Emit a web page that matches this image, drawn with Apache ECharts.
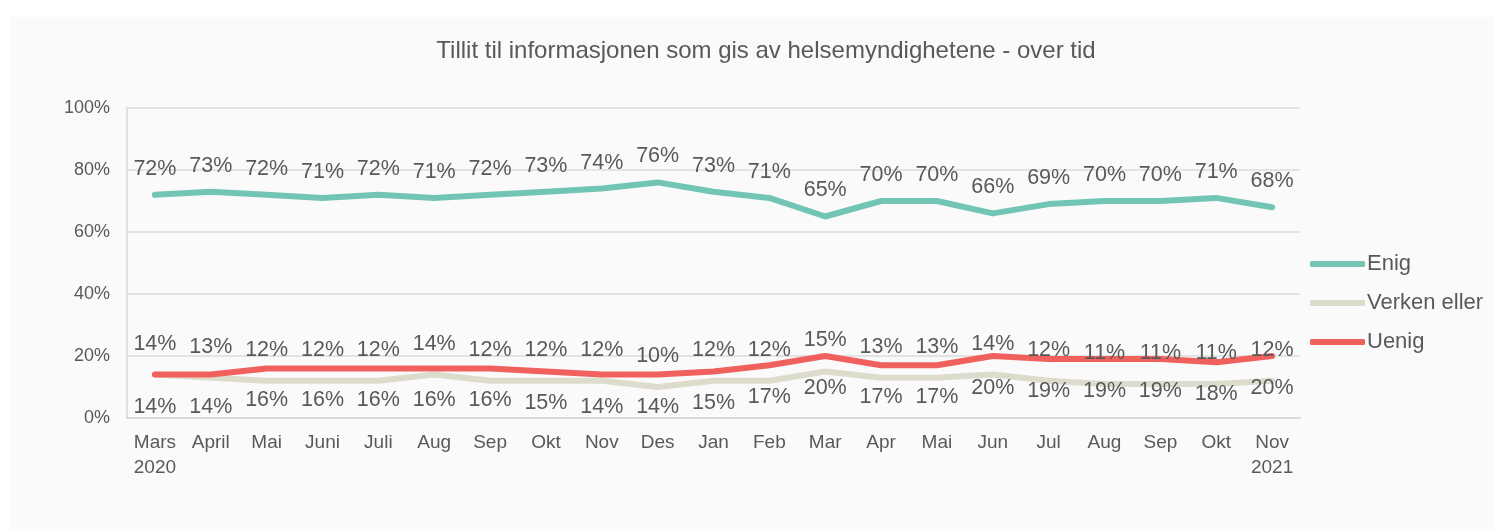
<!DOCTYPE html>
<html><head><meta charset="utf-8">
<script src="https://cdn.jsdelivr.net/npm/echarts@6/dist/echarts.min.js"></script>
<style>
html,body{margin:0;padding:0;background:#fff;}
#panel{position:absolute;left:10px;top:17px;width:1484px;height:514px;background:#fafafa;}
#chart{position:absolute;left:0;top:0;width:1494px;height:531px;}
</style></head>
<body><div id="panel"></div><div id="chart"></div>
<script>
const categories = ['Mars\n2020','April','Mai','Juni','Juli','Aug','Sep','Okt','Nov','Des','Jan','Feb','Mar','Apr','Mai','Jun','Jul','Aug','Sep','Okt','Nov\n2021'];
const enig = [72,73,72,71,72,71,72,73,74,76,73,71,65,70,70,66,69,70,70,71,68];
const verken = [14,13,12,12,12,14,12,12,12,10,12,12,15,13,13,14,12,11,11,11,12];
const uenig = [14,14,16,16,16,16,16,15,14,14,15,17,20,17,17,20,19,19,19,18,20];
const yTicks = [0,20,40,60,80,100];

const txt = '#595959';
const font = 'Liberation Sans, Arial, sans-serif';
const chart = echarts.init(document.getElementById('chart'), null, {renderer:'canvas'});
function lab(pos, dist){
  return {show:true, position:pos, distance:dist, formatter: p => p.value + '%', color:txt, fontSize:21.5, fontFamily:font};
}
function ser(name, data, color, pos, dist){
  return {name:name, type:'line', data:data, symbol:'circle', symbolSize:0, showSymbol:true,
    lineStyle:{width:6, color:color, cap:'round', join:'round'}, itemStyle:{color:color},
    label:lab(pos, dist), labelLayout:{hideOverlap:false}, emphasis:{disabled:true}};
}
chart.setOption({
  backgroundColor:'transparent',
  animation:false,
  title:{text:'Tillit til informasjonen som gis av helsemyndighetene - over tid', left:761, top:34, textAlign:'center',
    textStyle:{color:txt, fontSize:24, fontWeight:'normal', fontFamily:font}},
  legend:{orient:'vertical', left:1305, top:248, itemGap:17, itemWidth:55, itemHeight:6,
    icon:'roundRect', textStyle:{color:txt, fontSize:22, fontFamily:font, padding:[0,0,0,-3]},
    data:['Enig','Verken eller','Uenig']},
  grid:{left:127, right:194, top:108, bottom:113},
  xAxis:{type:'category', data:categories, boundaryGap:true,
    axisLine:{show:true, lineStyle:{color:'#d9d9d9', width:2}}, axisTick:{show:false},
    axisLabel:{color:txt, fontSize:19, fontFamily:font, margin:12, lineHeight:25, interval:0}},
  yAxis:{type:'value', min:0, max:100, interval:20,
    axisLine:{show:true, lineStyle:{color:'#e0e0e0', width:2}}, axisTick:{show:false},
    splitLine:{lineStyle:{color:'#e3e3e3', width:2}},
    axisLabel:{color:txt, fontSize:18, fontFamily:font, margin:17, formatter: v => v + '%'}},
  series:[
    ser('Enig', enig, '#72c5b4', 'top', 15),
    ser('Verken eller', verken, '#dcdbcc', 'top', 20),
    ser('Uenig', uenig, '#f0605d', 'bottom', 21)
  ]
});
</script></body></html>
